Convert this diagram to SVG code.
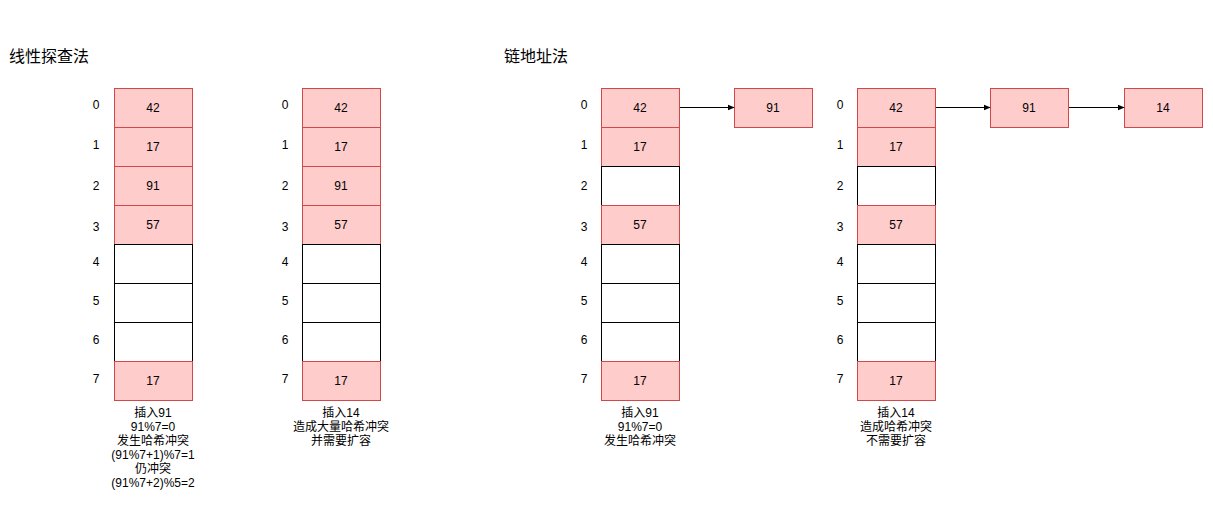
<svg xmlns="http://www.w3.org/2000/svg" width="1213" height="515" viewBox="0 0 1213 515">
<style>
text{font-family:"Liberation Sans",Arial,"Noto Sans CJK SC",sans-serif;fill:#000}
.f{fill:#ffcccc;stroke:#d04848;stroke-width:1}
.e{fill:#fff;stroke:#000;stroke-width:1}
.v{font-size:12px;text-anchor:middle;dominant-baseline:central}
.i{font-size:12px;text-anchor:middle}
.t{font-size:16px}
.n{font-size:12px;text-anchor:middle}
.c{stroke:#000;stroke-width:1;fill:none}
</style>
<defs>
<marker id="a" viewBox="0 0 10 10" refX="9" refY="5" markerWidth="7" markerHeight="7" orient="auto" markerUnits="userSpaceOnUse"><path d="M0,1 L10,5 L0,9 z" fill="#000"/></marker>
</defs>
<text class="t" x="9" y="62">线性探查法</text>
<text class="t" x="504" y="62">链地址法</text>

<g id="col1">
<rect class="f" x="114.5" y="88.5" width="78" height="39"/><text class="v" x="153" y="107.5">42</text>
<rect class="f" x="114.5" y="127.5" width="78" height="39"/><text class="v" x="153" y="146.5">17</text>
<rect class="f" x="114.5" y="166.5" width="78" height="39"/><text class="v" x="153" y="185.5">91</text>
<rect class="f" x="114.5" y="205.5" width="78" height="39"/><text class="v" x="153" y="224.5">57</text>
<rect class="e" x="114.5" y="244.5" width="78" height="39"/>
<rect class="e" x="114.5" y="283.5" width="78" height="39"/>
<rect class="e" x="114.5" y="322.5" width="78" height="39"/>
<rect class="f" x="114.5" y="361.5" width="78" height="39"/><text class="v" x="153" y="380.5">17</text>
<text class="i" x="96" y="109">0</text><text class="i" x="96" y="149">1</text><text class="i" x="96" y="190">2</text><text class="i" x="96" y="231">3</text><text class="i" x="96" y="266">4</text><text class="i" x="96" y="305">5</text><text class="i" x="96" y="344">6</text><text class="i" x="96" y="383">7</text>
<text class="n" x="153" y="417">插入91</text><text class="n" x="153" y="431">91%7=0</text><text class="n" x="153" y="445">发生哈希冲突</text><text class="n" x="153" y="459">(91%7+1)%7=1</text><text class="n" x="153" y="473">仍冲突</text><text class="n" x="153" y="487">(91%7+2)%5=2</text>
</g>

<g id="col2">
<rect class="f" x="302.5" y="88.5" width="78" height="39"/><text class="v" x="341" y="107.5">42</text>
<rect class="f" x="302.5" y="127.5" width="78" height="39"/><text class="v" x="341" y="146.5">17</text>
<rect class="f" x="302.5" y="166.5" width="78" height="39"/><text class="v" x="341" y="185.5">91</text>
<rect class="f" x="302.5" y="205.5" width="78" height="39"/><text class="v" x="341" y="224.5">57</text>
<rect class="e" x="302.5" y="244.5" width="78" height="39"/>
<rect class="e" x="302.5" y="283.5" width="78" height="39"/>
<rect class="e" x="302.5" y="322.5" width="78" height="39"/>
<rect class="f" x="302.5" y="361.5" width="78" height="39"/><text class="v" x="341" y="380.5">17</text>
<text class="i" x="285" y="109">0</text><text class="i" x="285" y="149">1</text><text class="i" x="285" y="190">2</text><text class="i" x="285" y="231">3</text><text class="i" x="285" y="266">4</text><text class="i" x="285" y="305">5</text><text class="i" x="285" y="344">6</text><text class="i" x="285" y="383">7</text>
<text class="n" x="341" y="417">插入14</text><text class="n" x="341" y="431">造成大量哈希冲突</text><text class="n" x="341" y="445">并需要扩容</text>
</g>

<g id="col3">
<rect class="f" x="601.5" y="88.5" width="78" height="39"/><text class="v" x="640" y="107.5">42</text>
<rect class="f" x="601.5" y="127.5" width="78" height="39"/><text class="v" x="640" y="146.5">17</text>
<rect class="e" x="601.5" y="166.5" width="78" height="39"/>
<rect class="f" x="601.5" y="205.5" width="78" height="39"/><text class="v" x="640" y="224.5">57</text>
<rect class="e" x="601.5" y="244.5" width="78" height="39"/>
<rect class="e" x="601.5" y="283.5" width="78" height="39"/>
<rect class="e" x="601.5" y="322.5" width="78" height="39"/>
<rect class="f" x="601.5" y="361.5" width="78" height="39"/><text class="v" x="640" y="380.5">17</text>
<text class="i" x="584" y="109">0</text><text class="i" x="584" y="149">1</text><text class="i" x="584" y="190">2</text><text class="i" x="584" y="231">3</text><text class="i" x="584" y="266">4</text><text class="i" x="584" y="305">5</text><text class="i" x="584" y="344">6</text><text class="i" x="584" y="383">7</text>
<text class="n" x="640" y="417">插入91</text><text class="n" x="640" y="431">91%7=0</text><text class="n" x="640" y="445">发生哈希冲突</text>
</g>
<g id="n91a"><rect class="f" x="734.5" y="88.5" width="78" height="39"/><text class="v" x="773" y="107.5">91</text></g>

<g id="col4">
<rect class="f" x="857.5" y="88.5" width="78" height="39"/><text class="v" x="896" y="107.5">42</text>
<rect class="f" x="857.5" y="127.5" width="78" height="39"/><text class="v" x="896" y="146.5">17</text>
<rect class="e" x="857.5" y="166.5" width="78" height="39"/>
<rect class="f" x="857.5" y="205.5" width="78" height="39"/><text class="v" x="896" y="224.5">57</text>
<rect class="e" x="857.5" y="244.5" width="78" height="39"/>
<rect class="e" x="857.5" y="283.5" width="78" height="39"/>
<rect class="e" x="857.5" y="322.5" width="78" height="39"/>
<rect class="f" x="857.5" y="361.5" width="78" height="39"/><text class="v" x="896" y="380.5">17</text>
<text class="i" x="840" y="109">0</text><text class="i" x="840" y="149">1</text><text class="i" x="840" y="190">2</text><text class="i" x="840" y="231">3</text><text class="i" x="840" y="266">4</text><text class="i" x="840" y="305">5</text><text class="i" x="840" y="344">6</text><text class="i" x="840" y="383">7</text>
<text class="n" x="896" y="417">插入14</text><text class="n" x="896" y="431">造成哈希冲突</text><text class="n" x="896" y="445">不需要扩容</text>
</g>
<g id="n91b"><rect class="f" x="990.5" y="88.5" width="78" height="39"/><text class="v" x="1029" y="107.5">91</text></g>
<g id="n14"><rect class="f" x="1124.5" y="88.5" width="78" height="39"/><text class="v" x="1163" y="107.5">14</text></g>

<g id="connectors">
<line class="c" x1="680" y1="107.5" x2="734" y2="107.5" marker-end="url(#a)"/>
<line class="c" x1="936" y1="107.5" x2="990" y2="107.5" marker-end="url(#a)"/>
<line class="c" x1="1069" y1="107.5" x2="1124" y2="107.5" marker-end="url(#a)"/>
</g>
</svg>
